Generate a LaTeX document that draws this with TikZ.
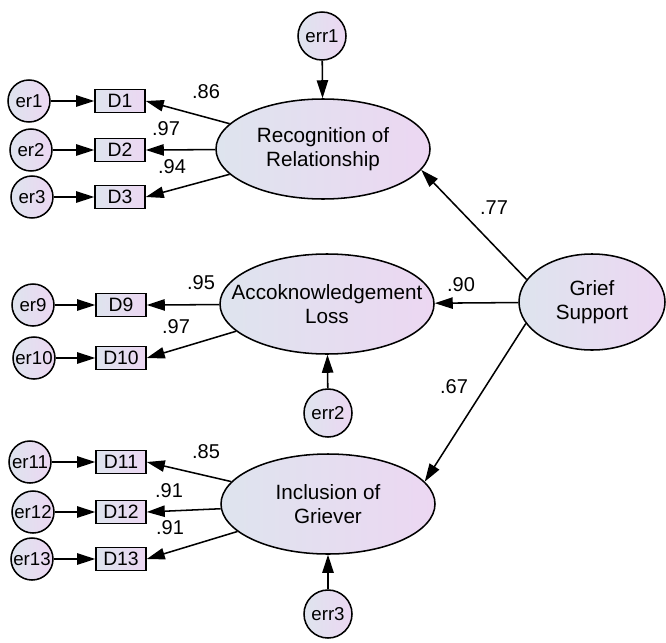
\documentclass[tikz,border=0pt]{standalone}
\usepackage{fontspec}
\setmainfont{Liberation Sans}
\usepackage{tikz}
\usetikzlibrary{shapes.geometric, arrows.meta}

\definecolor{shadeL}{RGB}{222,228,238}
\definecolor{shadeR}{RGB}{236,215,242}

\begin{document}
\begin{tikzpicture}[x=0.75pt,y=0.75pt,yscale=-1,xscale=1,
  latent/.style={draw, ellipse, line width=1.15pt, left color=shadeL, right color=shadeR, inner sep=0pt, minimum width=160.5pt, minimum height=75pt},
  ltxt/.style={align=center, inner sep=0pt, font=\fontsize{15.5}{18}\selectfont},
  errc/.style={draw, circle, line width=1.15pt, left color=shadeL, right color=shadeR, inner sep=0pt, minimum size=31.5pt, font=\fontsize{14}{16}\selectfont},
  errbig/.style={errc, minimum size=36pt},
  obsv/.style={draw, rectangle, line width=1.15pt, left color=shadeL, right color=shadeR, inner sep=0pt, minimum width=37.5pt, minimum height=17.25pt, font=\fontsize{14.5}{16}\selectfont},
  coef/.style={inner sep=0.75pt, font=\fontsize{15}{18}\selectfont},
  arr/.style={line width=1.15pt, -{Triangle[length=13.5pt,width=8.5pt]}}]
\useasboundingbox (0,0) rectangle (666,642);

%Shape: Ellipse
\node [latent, label={[ltxt]center:Recognition of\\Relationship}] (recog) at (323,149) {};
\node [latent, label={[ltxt]center:Accoknowledgement\\Loss}] (accok) at (327,304) {};
\node [latent, label={[ltxt]center:Inclusion of\\Griever}] (incl) at (328,504) {};
\node [latent, minimum width=109.5pt, minimum height=72pt, label={[ltxt]center:Grief\\Support}] (grief) at (592,302) {};

%Shape: Circle
\node [errbig] (err1) at (322,36) {err1};
\node [errbig] (err2) at (328,413) {err2};
\node [errbig] (err3) at (328,614) {err3};

\node [errc] (er1) at (29,101) {er1};
\node [errc] (er2) at (31,150) {er2};
\node [errc] (er3) at (32,197) {er3};
\node [errc] (er9) at (33,305) {er9};
\node [errc] (er10) at (34,358) {er10};
\node [errc] (er11) at (30,462) {er11};
\node [errc] (er12) at (33,512) {er12};
\node [errc] (er13) at (32,559) {er13};

%Shape: Rectangle
\node [obsv] (D1) at (120,101) {D1};
\node [obsv] (D2) at (120,150) {D2};
\node [obsv] (D3) at (120,197) {D3};
\node [obsv] (D9) at (121,305) {D9};
\node [obsv] (D10) at (121,358) {D10};
\node [obsv] (D11) at (121,462) {D11};
\node [obsv] (D12) at (121,512) {D12};
\node [obsv] (D13) at (121,559) {D13};

%Straight Lines
\draw [arr] (err1) -- (recog);
\draw [arr] (err2) -- (accok);
\draw [arr] (err3) -- (incl);

\draw [arr] (er1) -- (D1);
\draw [arr] (er2) -- (D2);
\draw [arr] (er3) -- (D3);
\draw [arr] (er9) -- (D9);
\draw [arr] (er10) -- (D10);
\draw [arr] (er11) -- (D11);
\draw [arr] (er12) -- (D12);
\draw [arr] (er13) -- (D13);

\draw [arr] (recog) -- (D1.east);
\draw [arr] (recog) -- (D2.east);
\draw [arr] (recog) -- (D3.east);
\draw [arr] (accok) -- (D9.east);
\draw [arr] (accok) -- (D10.east);
\draw [arr] (incl) -- (D11.east);
\draw [arr] (incl) -- (D12.east);
\draw [arr] (incl) -- (D13.east);

\draw [arr] (grief.161) -- (recog.-12);
\draw [arr] (grief) -- (accok);
\draw [arr] (grief.-162) -- (incl.13);

% Text Node
\node [coef] (c86) at (206,92) {.86};
\node [coef] (c97a) at (166,129) {.97};
\node [coef] (c94) at (172,167) {.94};
\node [coef] (c95) at (201,283) {.95};
\node [coef] (c97b) at (176,327) {.97};
\node [coef] (c85) at (206,452) {.85};
\node [coef] (c91a) at (169,491) {.91};
\node [coef] (c91b) at (170,528) {.91};
\node [coef] (c77) at (494,208) {.77};
\node [coef] (c90) at (461,285) {.90};
\node [coef] (c67) at (454,387) {.67};

\end{tikzpicture}
\end{document}
